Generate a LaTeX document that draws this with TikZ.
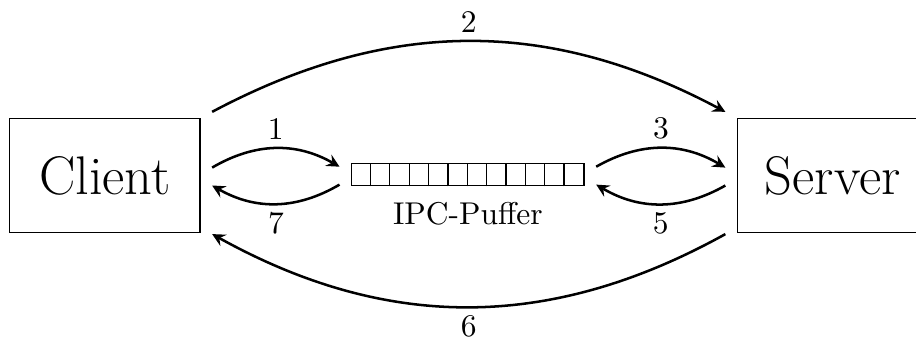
\documentclass[tikz,border=0pt]{standalone}
\usetikzlibrary{positioning}

\begin{document}
\begin{tikzpicture}[>=stealth,
  proc/.style={draw,minimum width=2.12cm,minimum height=1.27cm,font=\LARGE},
  msg/.style={->,thick},
  num/.style={inner sep=2.4pt}]
\useasboundingbox (0,0) rectangle (10.22,3.79);
\node[proc] (client) at (1.17,1.83) {Client};
\node[proc] (server) at (9.29,1.83) {Server};
\node[draw,inner sep=0pt,minimum width=2.59cm,minimum height=0.245cm] (buffer) at (5.22,1.84) {};
\foreach \i in {1,...,11}
  \draw ([xshift=\i*0.2158cm]buffer.south west)--([xshift=\i*0.2158cm]buffer.north west);
\node[below=1.5pt of buffer] (bufferlabel) {IPC-Puffer};
\draw[msg] ([shift={(0.13,0.09)}]client.east) to[bend left] node[num,above] {1} ([shift={(-0.13,0.09)}]buffer.west);
\draw[msg] ([shift={(0.13,0.07)}]client.north east) to[bend left=28] node[num,above] {2} ([shift={(-0.13,0.07)}]server.north west);
\draw[msg] ([shift={(0.13,0.09)}]buffer.east) to[bend left] node[num,above] {3} ([shift={(-0.13,0.09)}]server.west);
\draw[msg] ([shift={(-0.13,-0.11)}]server.west) to[bend left] node[num,below] {5} ([shift={(0.13,-0.11)}]buffer.east);
\draw[msg] ([shift={(-0.13,-0.01)}]server.south west) to[bend left=29] node[num,below] {6} ([shift={(0.13,-0.01)}]client.south east);
\draw[msg] ([shift={(-0.13,-0.11)}]buffer.west) to[bend left] node[num,below] {7} ([shift={(0.13,-0.11)}]client.east);
\end{tikzpicture}
\end{document}
